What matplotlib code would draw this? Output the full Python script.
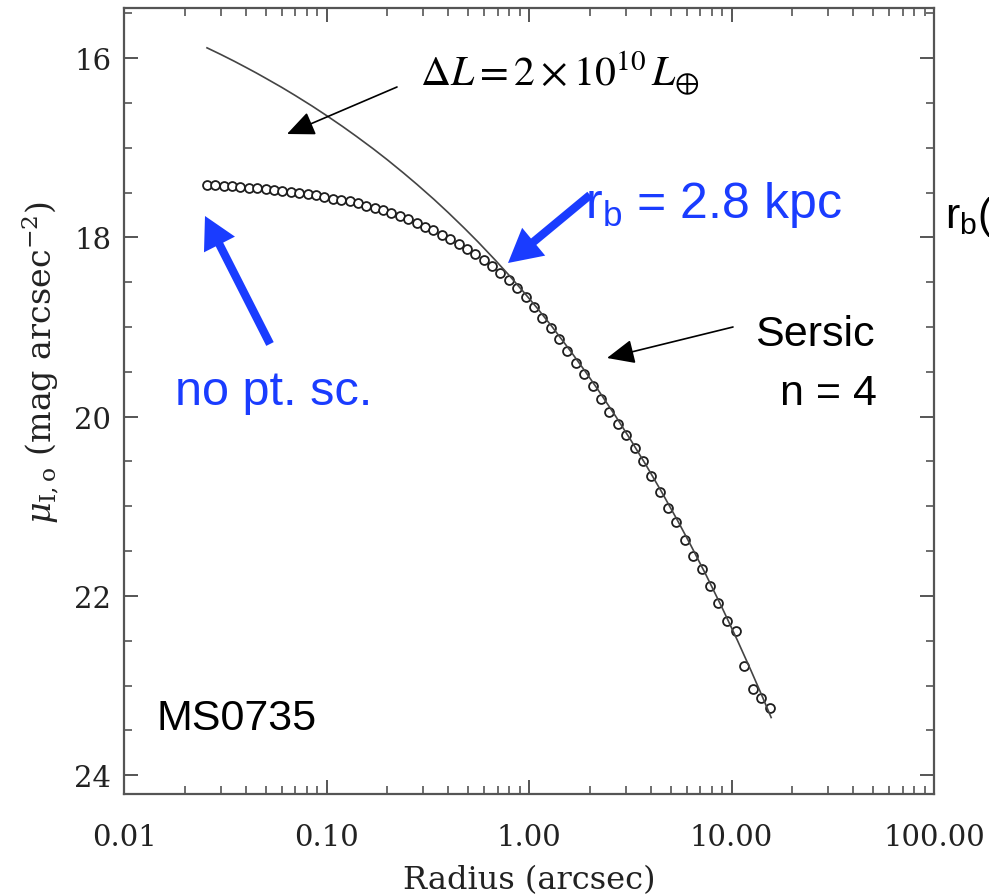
import matplotlib
matplotlib.use("Agg")
import matplotlib.pyplot as plt
from matplotlib.ticker import FixedLocator, LogLocator, NullFormatter, MultipleLocator

# ---- data ----
radius = [0.0257, 0.0283, 0.0311, 0.0342, 0.0376, 0.0414, 0.0455, 0.0501, 0.0551, 0.0606,
          0.0667, 0.0733, 0.0807, 0.0887, 0.0976, 0.1074, 0.1181, 0.1299, 0.1429, 0.1572,
          0.1729, 0.1902, 0.2092, 0.2302, 0.2532, 0.2785, 0.3064, 0.3370, 0.3707, 0.4078,
          0.4486, 0.4934, 0.5428, 0.5971, 0.6568, 0.7225, 0.7947, 0.8742, 0.9616, 1.058,
          1.164, 1.280, 1.408, 1.549, 1.704, 1.874, 2.061, 2.268, 2.494, 2.744,
          3.018, 3.320, 3.652, 4.017, 4.419, 4.861, 5.347, 5.882, 6.470, 7.117,
          7.829, 8.612, 9.473, 10.5, 11.5, 12.7, 14.0, 15.5]
mu = [17.42, 17.42, 17.43, 17.43, 17.44, 17.45, 17.45, 17.46, 17.47, 17.48,
      17.49, 17.50, 17.52, 17.53, 17.55, 17.57, 17.58, 17.60, 17.62, 17.65,
      17.67, 17.70, 17.73, 17.76, 17.80, 17.84, 17.88, 17.92, 17.97, 18.02,
      18.07, 18.13, 18.19, 18.25, 18.32, 18.40, 18.48, 18.57, 18.67, 18.78,
      18.90, 19.01, 19.13, 19.27, 19.40, 19.53, 19.66, 19.80, 19.95, 20.08,
      20.21, 20.35, 20.50, 20.66, 20.84, 21.02, 21.18, 21.38, 21.55, 21.70,
      21.89, 22.08, 22.28, 22.39, 22.78, 23.04, 23.14, 23.25]

sersic_r = [0.0257, 0.03, 0.035, 0.04, 0.045, 0.05, 0.06, 0.07, 0.085, 0.1,
            0.12, 0.14, 0.17, 0.2, 0.24, 0.28, 0.34, 0.4, 0.48, 0.56,
            0.68, 0.8, 0.95, 1.1, 1.3, 1.6, 1.9, 2.2, 2.7, 3.2,
            3.8, 4.5, 5.4, 6.3, 7.5, 9.0, 10.7, 12.5, 14.0, 15.7]
sersic_mu = [15.886, 15.959, 16.035, 16.104, 16.166, 16.224, 16.326, 16.417, 16.536, 16.641,
             16.763, 16.871, 17.012, 17.136, 17.282, 17.410, 17.578, 17.726, 17.899, 18.051,
             18.252, 18.427, 18.621, 18.792, 18.997, 19.266, 19.499, 19.706, 20.008, 20.271,
             20.548, 20.833, 21.154, 21.437, 21.770, 22.135, 22.497, 22.836, 23.091, 23.357]

xticks = [0.01, 0.1, 1.0, 10.0, 100.0]
xticklabels = ["0.01", "0.10", "1.00", "10.00", "100.00"]
yticks = [16, 18, 20, 22, 24]
yticklabels = ["16", "18", "20", "22", "24"]

W, H = 989, 895
fig = plt.figure(figsize=(W / 100, H / 100), dpi=100)
ax = fig.add_axes([124 / W, 1 - 795 / H, (934 - 124) / W, (795 - 8.5) / H])

ax.set_xscale("log")
ax.set_xlim(0.01, 100)
ax.set_ylim(24.21, 15.436)

ax.plot(radius, mu, linestyle="none", marker="o", ms=6.4, mfc="white",
        mec="#1e1e1e", mew=1.3, zorder=2)
ax.plot(sersic_r, sersic_mu, color="#444444", lw=1.2, zorder=3)

serif = "DejaVu Serif"
ax.xaxis.set_major_locator(FixedLocator(xticks))
ax.set_xticklabels(xticklabels, fontfamily=serif, fontsize=21)
ax.xaxis.set_minor_locator(LogLocator(base=10, subs=range(2, 10), numticks=20))
ax.xaxis.set_minor_formatter(NullFormatter())
ax.set_yticks(yticks)
ax.set_yticklabels(yticklabels, fontfamily=serif, fontsize=21)
ax.yaxis.set_minor_locator(MultipleLocator(0.5))

ax.tick_params(which="both", direction="in", top=True, right=True, colors="#555555",
               labelcolor="#222222")
ax.tick_params(which="major", length=10, width=1.4)
ax.tick_params(which="minor", length=5.5, width=1.2)
ax.tick_params(axis="x", which="major", pad=21)
ax.tick_params(axis="y", which="major", pad=9)
for s in ax.spines.values():
    s.set_color("#555555")
    s.set_linewidth(1.6)

ax.set_xlabel("Radius (arcsec)", fontfamily=serif, fontsize=23, color="#222222", labelpad=9)
ax.set_ylabel(r"$\mu_{\rm I,o}$ (mag arcsec$^{-2}$)", fontfamily=serif, fontsize=24,
              color="#222222", math_fontfamily="dejavuserif")
ax.yaxis.set_label_coords(-0.078, 0.55)

blue = "#1a3cff"

def px(x, y):
    return (x / W, 1 - y / H)

# annotations
fig.text(*px(420, 86), r"$\Delta L = 2\times10^{10}\,L_{\oplus}$", fontsize=30,
         math_fontfamily="stix", color="black", ha="left", va="baseline")
fig.text(*px(585, 218), r"r$_\mathregular{b}$ = 2.8 kpc", fontsize=36, color=blue,
         family="Liberation Sans", ha="left", va="baseline")
fig.text(*px(175, 405), "no pt. sc.", fontsize=35, color=blue,
         family="Liberation Sans", ha="left", va="baseline")
fig.text(*px(875, 346), "Sersic", fontsize=31, color="black",
         family="Liberation Sans", ha="right", va="baseline")
fig.text(*px(877, 405), "n = 4", fontsize=31, color="black",
         family="Liberation Sans", ha="right", va="baseline")
fig.text(*px(157, 730), "MS0735", fontsize=31, color="black",
         family="Liberation Sans", ha="left", va="baseline")
fig.text(*px(945, 228), r"r$_\mathregular{b}$(", fontsize=31, color="black",
         family="Liberation Sans", ha="left", va="baseline")

# arrows (figure pixel positions converted to figure fraction)
def arrow(x0, y0, x1, y1, style, color, lw):
    ax.annotate("", xy=px(x1, y1), xycoords="figure fraction",
                xytext=px(x0, y0), textcoords="figure fraction",
                arrowprops=dict(arrowstyle=style, color=color, lw=lw,
                                shrinkA=0, shrinkB=0, mutation_scale=10),
                annotation_clip=False)

arrow(270, 345, 205, 217, "simple,head_length=2.3,head_width=2.5,tail_width=0.6", blue, 0)
arrow(590, 196, 508, 264, "simple,head_length=2.4,head_width=2.6,tail_width=0.6", blue, 0)
arrow(397, 88, 287, 135, "-|>,head_length=1.7,head_width=0.75", "black", 1.2)
arrow(733, 328, 607, 359, "-|>,head_length=1.7,head_width=0.75", "black", 1.2)

fig.savefig("out.png", dpi=100)
